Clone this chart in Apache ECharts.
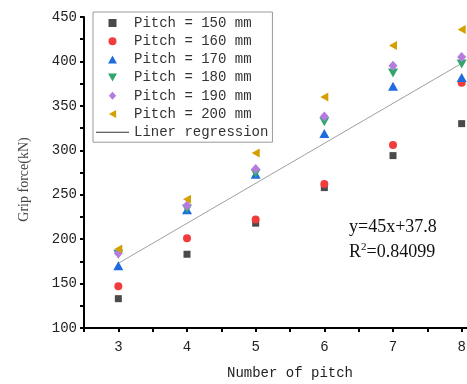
<!DOCTYPE html>
<html>
<head>
<meta charset="utf-8">
<script src="https://cdn.jsdelivr.net/npm/echarts@6/dist/echarts.min.js"></script>
<style>
  html, body { margin: 0; padding: 0; background: #fff; }
  #chart { width: 467px; height: 384px; }
</style>
</head>
<body>
<div id="chart"></div>
<script>
// Number of pitch (x) and grip force in kN for each pitch length
const pitchCounts = [3, 4, 5, 6, 7, 8];
const pitch150 = [133, 183, 218, 258, 294, 330];
const pitch160 = [147, 201, 222, 262, 306, 376];
const pitch170 = [170, 233, 273, 319, 372, 382];
const pitch180 = [183, 234, 274, 332, 387, 397];
const pitch190 = [184, 238, 279, 338, 395, 405];
const pitch200 = [189, 245, 297, 360, 418, 436];

const seriesNames = [
  'Pitch = 150 mm', 'Pitch = 160 mm', 'Pitch = 170 mm',
  'Pitch = 180 mm', 'Pitch = 190 mm', 'Pitch = 200 mm'
];
const regressionName = 'Liner regression';

// Fitted line y = slope * x + intercept, drawn over the measured range
const regressionSlope = 45;
const regressionIntercept = 37.8;
const regressionRange = [3, 8];
const equationText = 'y=45x+37.8';
const r2Text = '0.84099';

const serif = '"Liberation Serif", "Times New Roman", serif';
const mono = '"Liberation Mono", "DejaVu Sans Mono", monospace';

// Marker shapes as paths so the legend keeps their proportions
const SQUARE = 'path://M0,0H10V10H0Z';
const CIRCLE = 'circle';
const TRI_UP = 'path://M5,0L10,9L0,9Z';
const TRI_DOWN = 'path://M0,0L10,0L5,9Z';
const DIAMOND = 'path://M5,0L10,5.5L5,11L0,5.5Z';
const TRI_LEFT = 'path://M9,0L9,10L0,5Z';

const seriesStyles = [
  { symbol: SQUARE, size: [7, 7], color: '#4a4a4a' },
  { symbol: CIRCLE, size: 8, color: '#f03c3c' },
  { symbol: TRI_UP, size: [10, 9], color: '#1f6be0' },
  { symbol: TRI_DOWN, size: [10, 9], color: '#32a66a' },
  { symbol: DIAMOND, size: [9, 10], color: '#b57be0' },
  { symbol: TRI_LEFT, size: [8, 9], color: '#d4a000' }
];
const seriesValues = [pitch150, pitch160, pitch170, pitch180, pitch190, pitch200];

const scatterSeries = seriesValues.map((vals, i) => ({
  name: seriesNames[i],
  type: 'scatter',
  symbol: seriesStyles[i].symbol,
  symbolSize: seriesStyles[i].size,
  itemStyle: { color: seriesStyles[i].color, opacity: 1 },
  z: 3,
  data: pitchCounts.map((x, k) => [x, vals[k]])
}));

const regressionSeries = {
  name: regressionName,
  type: 'line',
  symbol: 'none',
  silent: true,
  z: 2,
  lineStyle: { color: '#a0a0a0', width: 1 },
  itemStyle: { color: '#a0a0a0' },
  data: regressionRange.map(x => [x, regressionSlope * x + regressionIntercept])
};

const legendData = seriesNames.map((n, i) => ({ name: n, icon: seriesStyles[i].symbol }));
legendData.push({
  name: regressionName,
  icon: 'path://M0,0H33V1H0Z',
  itemStyle: { color: '#333' }
});

const chart = echarts.init(document.getElementById('chart'), null, { renderer: 'canvas' });
chart.setOption({
  animation: false,
  backgroundColor: '#fff',
  grid: {
    left: 84, top: 17, width: 412, height: 311,
    containLabel: false,
    outerBoundsMode: 'none'
  },
  xAxis: {
    type: 'value',
    min: 2.5,
    max: 8.5,
    interval: 0.5,
    name: 'Number of pitch',
    nameLocation: 'middle',
    nameGap: 38,
    nameTextStyle: { fontFamily: mono, fontSize: 14, color: '#222' },
    axisLine: { show: true, onZero: false, lineStyle: { color: '#000', width: 2 } },
    axisTick: { show: true, inside: false, length: 4, lineStyle: { color: '#000', width: 2 } },
    axisLabel: {
      margin: 12,
      fontFamily: mono,
      fontSize: 14,
      color: '#222',
      formatter: v => (Number.isInteger(v) ? String(v) : '')
    },
    splitLine: { show: false }
  },
  yAxis: {
    type: 'value',
    min: 100,
    max: 450,
    interval: 25,
    name: 'Grip force(kN)',
    nameLocation: 'middle',
    nameRotate: 90,
    nameGap: 53,
    nameTextStyle: { fontFamily: serif, fontSize: 14, color: '#444', padding: [0, 14, 0, 0] },
    axisLine: { show: true, onZero: false, lineStyle: { color: '#000', width: 2 } },
    axisTick: { show: true, inside: false, length: 4, lineStyle: { color: '#000', width: 2 } },
    axisLabel: {
      margin: 7,
      fontFamily: mono,
      fontSize: 14,
      color: '#222',
      formatter: v => (v % 50 === 0 ? String(v) : '')
    },
    splitLine: { show: false }
  },
  legend: {
    orient: 'vertical',
    left: 93,
    top: 12,
    padding: [4, 4, 3, 3],
    itemWidth: 33,
    itemHeight: 8,
    itemGap: 4.2,
    symbolKeepAspect: true,
    backgroundColor: '#fff',
    borderColor: '#9a9a9a',
    borderWidth: 1,
    borderRadius: 0,
    selectedMode: false,
    textStyle: { fontFamily: mono, fontSize: 14, color: '#333' },
    data: legendData
  },
  graphic: [
    {
      type: 'text',
      left: 349,
      top: 218,
      style: {
        text: '{n|' + equationText + '}\n{n|R}{s|2}{n|=' + r2Text + '}',
        rich: {
          n: { fontFamily: serif, fontSize: 18, lineHeight: 25, fill: '#111' },
          s: { fontFamily: serif, fontSize: 11, lineHeight: 25, fill: '#111', padding: [0, 0, 9, 0] }
        }
      }
    }
  ],
  series: [regressionSeries].concat(scatterSeries)
});
</script>
</body>
</html>
